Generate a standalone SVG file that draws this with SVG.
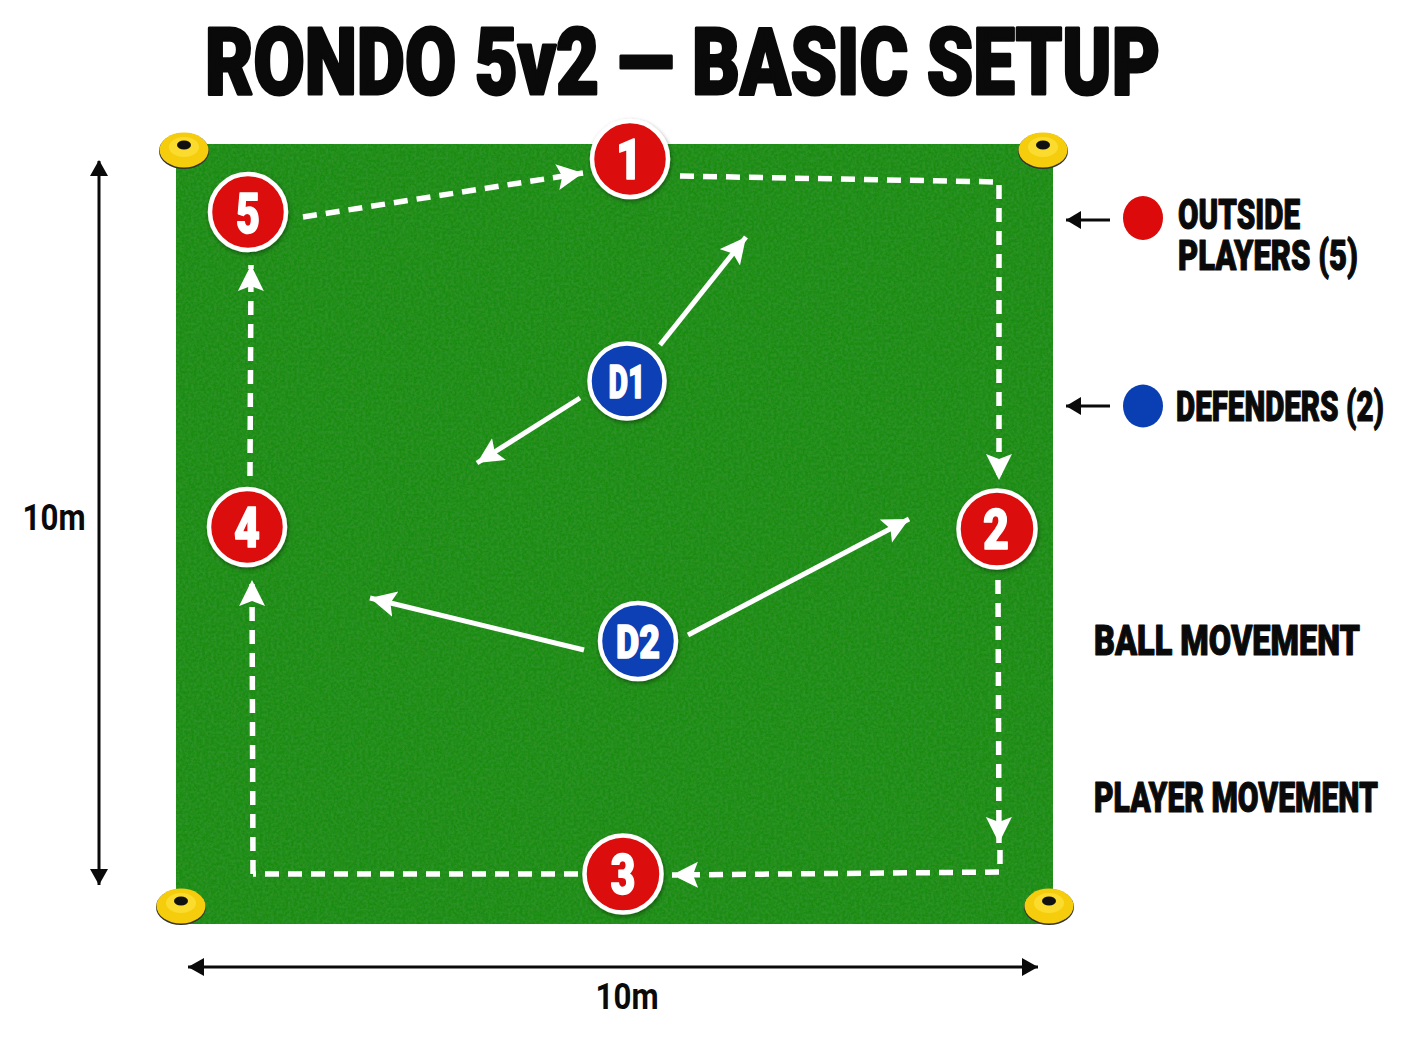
<svg xmlns="http://www.w3.org/2000/svg" width="1408" height="1056" viewBox="0 0 1408 1056">
<style>
.t{font-family:"Roboto","Liberation Sans",sans-serif;font-weight:900;fill:#0a0a0a;stroke:#0a0a0a;stroke-linejoin:round}
.n{font-family:"Roboto","Liberation Sans",sans-serif;font-weight:900;fill:#fff;stroke:#fff;stroke-width:1.5;text-anchor:middle;stroke-linejoin:round}
.dim{font-family:"Roboto","Liberation Sans",sans-serif;font-weight:700;font-size:36px;fill:#0a0a0a;text-anchor:middle}
.ball{fill:none;stroke:#fff;stroke-width:5.5;stroke-dasharray:14 9}
.run{fill:none;stroke:#fff;stroke-width:5}
.blk{fill:none;stroke:#0a0a0a;stroke-width:3}
.red{fill:#dc0a0a;stroke:#fff;stroke-width:4.5}
.blue{fill:#0a3fb4;stroke:#fff;stroke-width:4.5}
</style>
<defs>
<marker id="wh" markerUnits="userSpaceOnUse" markerWidth="30" markerHeight="30" refX="26" refY="13" orient="auto"><path d="M0 0L26 13L0 26L5 13Z" fill="#fff"/></marker>
<marker id="bk" markerUnits="userSpaceOnUse" markerWidth="20" markerHeight="20" refX="15" refY="9" orient="auto"><path d="M0 0L15 9L0 18Z" fill="#0a0a0a"/></marker>
<marker id="bks" markerUnits="userSpaceOnUse" markerWidth="20" markerHeight="20" refX="16" refY="9" orient="auto"><path d="M0 0L16 9L0 18Z" fill="#0a0a0a"/></marker>
<marker id="lg" markerUnits="userSpaceOnUse" markerWidth="34" markerHeight="36" refX="28" refY="16" orient="auto"><path d="M0 0L28 16L0 32L8 16Z" fill="#fff" stroke="#e4e4e4" stroke-width=".6"/></marker>
<filter id="grass" x="0" y="0" width="100%" height="100%"><feTurbulence type="fractalNoise" baseFrequency=".35" numOctaves="3" seed="4"/><feColorMatrix values="0 0 0 0 .05  0 0 0 0 .33  0 0 0 0 .04  .9 0 0 0 -.28"/><feComposite in2="SourceGraphic" operator="in" result="n"/><feMerge><feMergeNode in="SourceGraphic"/><feMergeNode in="n"/></feMerge></filter>
<filter id="sh" x="-30%" y="-30%" width="160%" height="160%"><feDropShadow dx="1" dy="2" stdDeviation="2" flood-color="#000" flood-opacity=".4"/></filter>
<filter id="ls" x="-5%" y="-60%" width="110%" height="220%"><feDropShadow dx="0" dy="2" stdDeviation="1.5" flood-color="#000" flood-opacity=".45"/></filter>
<g id="cone"><ellipse cx="0" cy="1" rx="25" ry="18" fill="#333"/><ellipse cx="0" cy="0" rx="24.500" ry="17.500" fill="#f5cd0c"/><ellipse cx="0" cy="-3" rx="15" ry="10" fill="#fbdc2e"/><ellipse cx="0" cy="-5" rx="7" ry="4.500" fill="#111"/></g>
</defs>
<rect width="1408" height="1056" fill="#fff"/>
<text id="title" class="t" x="205" y="94" font-size="93" textLength="955" lengthAdjust="spacingAndGlyphs" stroke-width="3">RONDO 5v2 — BASIC SETUP</text>
<g id="field"><rect x="176" y="144" width="877" height="780" fill="#1b8c12" filter="url(#grass)"/></g>
<g id="cone-tl"><use href="#cone" x="184" y="150"/></g>
<g id="cone-tr"><use href="#cone" x="1043" y="150"/></g>
<g id="cone-bl"><use href="#cone" x="181" y="906"/></g>
<g id="cone-br"><use href="#cone" x="1049" y="906"/></g>
<g id="connectors">
<path class="ball" marker-end="url(#wh)" d="M303 217L583 173"/>
<path class="ball" marker-end="url(#wh)" d="M680 176L999 182L999 480"/>
<path class="ball" marker-end="url(#wh)" d="M998 580L999 843"/>
<path class="ball" marker-end="url(#wh)" d="M1000 850L1000 872L672 875"/>
<path class="ball" d="M578 874L253 874"/>
<path class="ball" marker-end="url(#wh)" d="M253 874L252 580"/>
<path class="ball" marker-end="url(#wh)" d="M250 476L251 265"/>
<path class="run" marker-end="url(#wh)" d="M660 345L746 237"/>
<path class="run" marker-end="url(#wh)" d="M580 398L477 463"/>
<path class="run" marker-end="url(#wh)" d="M688 635L909 519"/>
<path class="run" marker-end="url(#wh)" d="M584 650L370 598"/>
<path class="blk" marker-start="url(#bks)" marker-end="url(#bks)" d="M99 161L99 885" style="marker-start:none"/>
<path d="M90 176L99 160L108 176Z" fill="#0a0a0a"/>
<path class="blk" marker-end="url(#bks)" d="M188 967L1038 967"/>
<path d="M204 958L188 967L204 976Z" fill="#0a0a0a"/>
<path class="blk" marker-end="url(#bk)" d="M1110 220L1066 220"/>
<path class="blk" marker-end="url(#bk)" d="M1110 406L1066 406"/>
<path d="M1095 590L1282 590" fill="none" stroke="#fff" stroke-width="9" stroke-dasharray="18 8" filter="url(#ls)" marker-end="url(#lg)"/>
<path d="M1093 742L1268 742" fill="none" stroke="#fff" stroke-width="7" stroke-linecap="round" filter="url(#ls)" marker-end="url(#lg)"/>
</g>
<g id="p1"><circle class="red" cx="630" cy="159" r="38" filter="url(#sh)"/><text class="n" x="629" y="179" font-size="56" textLength="26" lengthAdjust="spacingAndGlyphs">1</text></g>
<g id="p2"><circle class="red" cx="997" cy="529" r="38.500" filter="url(#sh)"/><text class="n" x="996" y="549" font-size="56" textLength="26" lengthAdjust="spacingAndGlyphs">2</text></g>
<g id="p3"><circle class="red" cx="623" cy="874" r="38.500" filter="url(#sh)"/><text class="n" x="623" y="894" font-size="56" textLength="25" lengthAdjust="spacingAndGlyphs">3</text></g>
<g id="p4"><circle class="red" cx="247" cy="527" r="38" filter="url(#sh)"/><text class="n" x="247" y="547" font-size="56" textLength="26" lengthAdjust="spacingAndGlyphs">4</text></g>
<g id="p5"><circle class="red" cx="248" cy="212" r="38" filter="url(#sh)"/><text class="n" x="248" y="233" font-size="56" textLength="24" lengthAdjust="spacingAndGlyphs">5</text></g>
<g id="d1"><circle class="blue" cx="627" cy="381" r="37.500" filter="url(#sh)"/><text class="n" x="627" y="398" font-size="47" textLength="37" lengthAdjust="spacingAndGlyphs">D1</text></g>
<g id="d2"><circle class="blue" cx="638" cy="641" r="38" filter="url(#sh)"/><text class="n" x="638" y="658" font-size="47" textLength="44" lengthAdjust="spacingAndGlyphs">D2</text></g>
<g id="legend">
<ellipse cx="1143" cy="218" rx="20" ry="22" fill="#dc0a0a"/>
<ellipse cx="1143" cy="406" rx="20" ry="21.500" fill="#0a3fb4"/>
<text class="t" x="1178" y="229" font-size="43" stroke-width="1.200" textLength="122" lengthAdjust="spacingAndGlyphs">OUTSIDE</text>
<text class="t" x="1178" y="270" font-size="43" stroke-width="1.200" textLength="180" lengthAdjust="spacingAndGlyphs">PLAYERS (5)</text>
<text class="t" x="1176" y="421" font-size="43" stroke-width="1.200" textLength="208" lengthAdjust="spacingAndGlyphs">DEFENDERS (2)</text>
<text class="t" x="1094" y="655" font-size="43" stroke-width="1.200" textLength="266" lengthAdjust="spacingAndGlyphs">BALL  MOVEMENT</text>
<text class="t" x="1094" y="812" font-size="43" stroke-width="1.200" textLength="284" lengthAdjust="spacingAndGlyphs">PLAYER MOVEMENT</text>
<text class="dim" x="54" y="530" textLength="63" lengthAdjust="spacingAndGlyphs">10m</text>
<text class="dim" x="627" y="1009" textLength="63" lengthAdjust="spacingAndGlyphs">10m</text>
</g>
</svg>
